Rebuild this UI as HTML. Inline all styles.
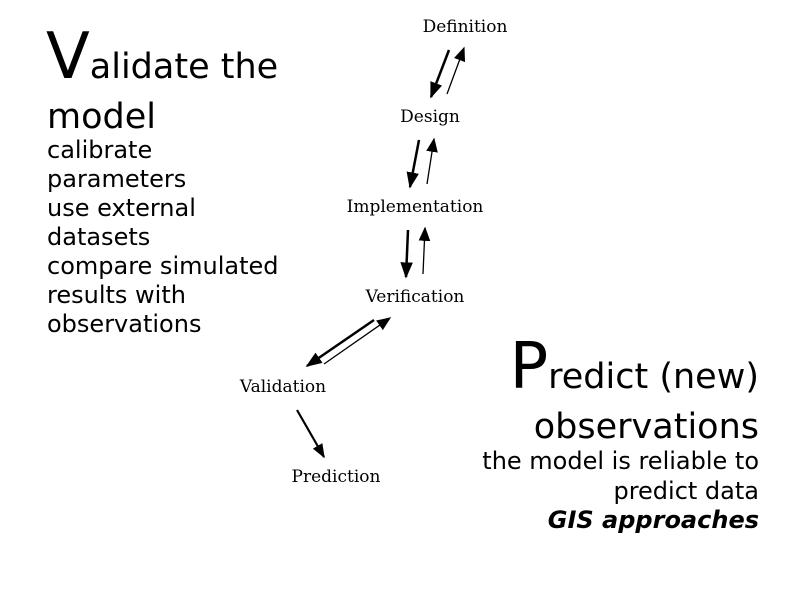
<!DOCTYPE html>
<html><head><meta charset="utf-8"><style>
html,body{margin:0;padding:0;background:#fff;}
svg{display:block}
.s{font-family:"DejaVu Sans","Liberation Sans",sans-serif;fill:#000}
.n{font-family:"DejaVu Serif","Liberation Serif",serif;font-size:17px;fill:#000;text-anchor:middle}
</style></head><body>
<svg width="800" height="595" viewBox="0 0 800 595" xmlns="http://www.w3.org/2000/svg">
<defs>
<marker id="a" viewBox="0 0 10 10" refX="9" refY="5" markerWidth="6.5" markerHeight="5" markerUnits="strokeWidth" orient="auto" preserveAspectRatio="none"><path d="M0,0 L10,5 L0,10 z"/></marker>
<marker id="b" viewBox="0 0 10 10" refX="9" refY="5" markerWidth="11" markerHeight="9" markerUnits="strokeWidth" orient="auto" preserveAspectRatio="none"><path d="M0,0 L10,5 L0,10 z"/></marker>
</defs>
<text class="s" x="46" y="78"><tspan font-size="64">V</tspan><tspan font-size="35">alidate the</tspan></text>
<text class="s" x="47" y="128" font-size="35">model</text>
<g class="s" font-size="24">
<text x="47" y="158">calibrate</text>
<text x="47" y="187">parameters</text>
<text x="47" y="216">use external</text>
<text x="47" y="245">datasets</text>
<text x="47" y="274">compare simulated</text>
<text x="47" y="303">results with</text>
<text x="47" y="332">observations</text>
</g>
<g class="s" text-anchor="end">
<text x="759" y="388"><tspan font-size="64">P</tspan><tspan font-size="35">redict (new)</tspan></text>
<text x="759" y="438" font-size="35">observations</text>
<text x="759" y="469" font-size="24">the model is reliable to</text>
<text x="759" y="499" font-size="24">predict data</text>
<text x="759" y="528" font-size="24" font-weight="bold" font-style="italic">GIS approaches</text>
</g>
<text class="n" x="465" y="32">Definition</text>
<text class="n" x="430" y="122">Design</text>
<text class="n" x="415" y="212">Implementation</text>
<text class="n" x="415" y="302">Verification</text>
<text class="n" x="283" y="392">Validation</text>
<text class="n" x="336" y="482">Prediction</text>
<g stroke="#000" fill="none">
<line x1="449" y1="50" x2="431" y2="97" stroke-width="2.5" marker-end="url(#a)"/>
<line x1="447" y1="94" x2="464" y2="48" stroke-width="1.3" marker-end="url(#b)"/>
<line x1="419" y1="140" x2="410" y2="187" stroke-width="2.5" marker-end="url(#a)"/>
<line x1="427" y1="184" x2="434" y2="139" stroke-width="1.3" marker-end="url(#b)"/>
<line x1="408" y1="230" x2="406" y2="277" stroke-width="2.5" marker-end="url(#a)"/>
<line x1="423" y1="274" x2="425" y2="228" stroke-width="1.3" marker-end="url(#b)"/>
<line x1="374" y1="320" x2="307" y2="366" stroke-width="2.5" marker-end="url(#a)"/>
<line x1="324" y1="364" x2="390" y2="318" stroke-width="1.3" marker-end="url(#b)"/>
<line x1="297" y1="410" x2="324" y2="457" stroke-width="2.2" marker-end="url(#a)"/>
</g>
</svg>
</body></html>
